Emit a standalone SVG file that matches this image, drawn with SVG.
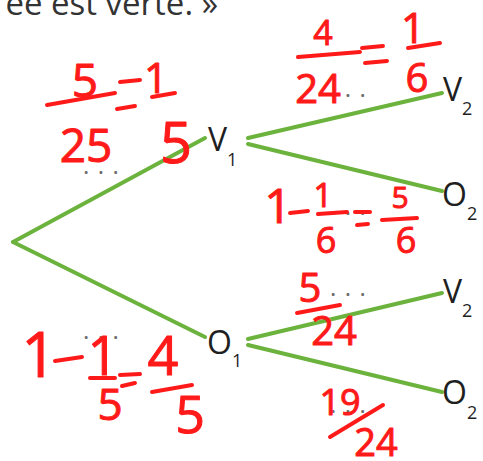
<svg xmlns="http://www.w3.org/2000/svg" width="483" height="461" viewBox="0 0 483 461">
<style>
.edge{stroke:#6cb33e;stroke-width:4;fill:none;stroke-linecap:round}
.lbl{font-family:"Open Sans","DejaVu Sans",sans-serif;font-size:32px;fill:#1f1f1f}
.sub{font-size:18px}
.dots{font-family:"Open Sans","DejaVu Sans",sans-serif;font-size:24px;fill:#6b6b6b;letter-spacing:8.5px}
.ink{font-family:"Open Sans","DejaVu Sans",sans-serif;fill:#ff1a1a;stroke:#ff1a1a;stroke-width:1;stroke-linejoin:round;text-anchor:middle}
.stroke{stroke:#ff1a1a;stroke-width:4;stroke-linecap:round;fill:none}
</style>
<rect width="483" height="461" fill="#ffffff"/>
<text x="218" y="15" text-anchor="end" style="font-family:'Open Sans','DejaVu Sans',sans-serif;font-size:33px;fill:#333">ee est verte. »</text>

<g id="connectors">
  <line class="edge" x1="13" y1="242" x2="205" y2="138"/>
  <line class="edge" x1="13" y1="242" x2="205" y2="337"/>
  <line class="edge" x1="248" y1="138" x2="442" y2="93"/>
  <line class="edge" x1="248" y1="144" x2="442" y2="191"/>
  <line class="edge" x1="248" y1="339" x2="442" y2="293"/>
  <line class="edge" x1="248" y1="345" x2="442" y2="392"/>
</g>

<g id="node-V1"><text class="lbl" x="208" y="151">V<tspan class="sub" dy="15">1</tspan></text></g>
<g id="node-O1"><text class="lbl" x="207" y="354">O<tspan class="sub" dy="13">1</tspan></text></g>
<g id="node-V2a"><text class="lbl" x="443" y="101">V<tspan class="sub" dy="14">2</tspan></text></g>
<g id="node-O2a"><text class="lbl" x="442" y="206">O<tspan class="sub" dy="14">2</tspan></text></g>
<g id="node-V2b"><text class="lbl" x="443" y="303">V<tspan class="sub" dy="14">2</tspan></text></g>
<g id="node-O2b"><text class="lbl" x="442" y="404">O<tspan class="sub" dy="15">2</tspan></text></g>

<g id="placeholders">
  <text class="dots" x="83" y="174">...</text>
  <text class="dots" x="330" y="97">...</text>
  <text class="dots" x="330" y="215">...</text>
  <text class="dots" x="330" y="296">...</text>
  <text class="dots" x="330" y="413">...</text>
  <text class="dots" x="83" y="339">...</text>
</g>

<g id="annotations">
  <!-- 5/25 = 1/5 -->
  <text class="ink" x="85" y="97" font-size="46">5</text>
  <line class="stroke" x1="47" y1="105" x2="115" y2="93"/>
  <text class="ink" x="86" y="162" font-size="46">25</text>
  <line class="stroke" x1="120" y1="82" x2="140" y2="80"/>
  <line class="stroke" x1="117" y1="109" x2="135" y2="106"/>
  <text class="ink" x="156" y="93" font-size="42">1</text>
  <line class="stroke" x1="152" y1="97" x2="175" y2="93"/>
  <text class="ink" x="176" y="163" font-size="56">5</text>

  <!-- 4/24 = 1/6 -->
  <text class="ink" x="323" y="45" font-size="34">4</text>
  <line class="stroke" x1="298" y1="57" x2="360" y2="52"/>
  <text class="ink" x="318" y="103" font-size="40">24</text>
  <line class="stroke" x1="362" y1="48" x2="383" y2="46"/>
  <line class="stroke" x1="365" y1="63" x2="387" y2="61"/>
  <text class="ink" x="413" y="43" font-size="42">1</text>
  <line class="stroke" x1="408" y1="48" x2="440" y2="43"/>
  <text class="ink" x="417" y="92" font-size="40">6</text>

  <!-- 1 - 1/6 = 5/6 -->
  <text class="ink" x="278" y="223" font-size="48">1</text>
  <line class="stroke" x1="290" y1="213" x2="308" y2="211"/>
  <text class="ink" x="323" y="207" font-size="33">1</text>
  <line class="stroke" x1="318" y1="214" x2="347" y2="212"/>
  <text class="ink" x="326" y="253" font-size="36">6</text>
  <line class="stroke" x1="355" y1="212" x2="370" y2="212"/>
  <line class="stroke" x1="357" y1="225" x2="368" y2="224"/>
  <text class="ink" x="400" y="208" font-size="30">5</text>
  <line class="stroke" x1="382" y1="220" x2="417" y2="218"/>
  <text class="ink" x="406" y="253" font-size="36">6</text>

  <!-- 1 - 1/5 = 4/5 -->
  <text class="ink" x="39" y="377" font-size="62">1</text>
  <line class="stroke" x1="55" y1="361" x2="82" y2="357"/>
  <text class="ink" x="103" y="375" font-size="54">1</text>
  <line class="stroke" x1="90" y1="378" x2="115" y2="378"/>
  <text class="ink" x="110" y="420" font-size="44">5</text>
  <line class="stroke" x1="120" y1="375" x2="140" y2="374"/>
  <line class="stroke" x1="122" y1="386" x2="135" y2="383"/>
  <text class="ink" x="163" y="375" font-size="54">4</text>
  <line class="stroke" x1="152" y1="392" x2="192" y2="385"/>
  <text class="ink" x="190" y="433" font-size="52">5</text>

  <!-- 5/24 -->
  <text class="ink" x="310" y="302" font-size="40">5</text>
  <line class="stroke" x1="297" y1="313" x2="340" y2="305"/>
  <text class="ink" x="334" y="345" font-size="40">24</text>

  <!-- 19/24 -->
  <text class="ink" x="340" y="415" font-size="36">19</text>
  <line class="stroke" x1="330" y1="437" x2="383" y2="405"/>
  <text class="ink" x="376" y="456" font-size="38">24</text>
</g>
</svg>
